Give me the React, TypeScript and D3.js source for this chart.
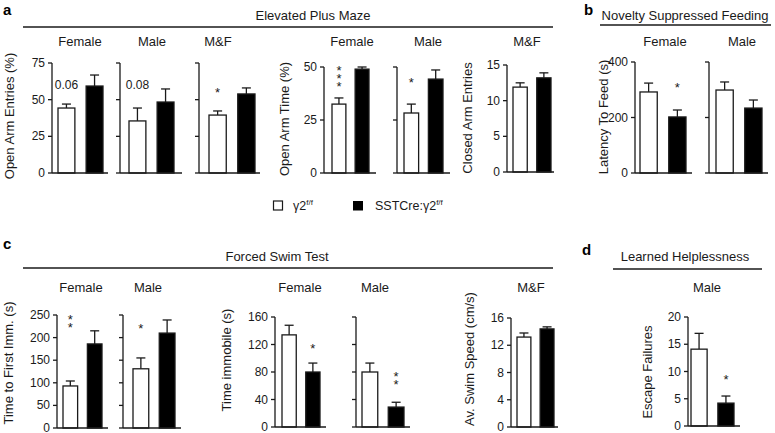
import React from 'react'
import * as d3 from 'd3'

const W = 775
const H = 433
const FONT = '"Liberation Sans", Arial, Helvetica, sans-serif'
const INK = '#1a1a1a'

const genotypes = ['γ2f/f', 'SSTCre:γ2f/f']

// a: Elevated Plus Maze  (Female, Male, M&F)
const openArmEntries = [[44.3, 59.3], [35.5, 48.4], [39.5, 53.9]]
const openArmEntriesSem = [[2.7, 7.5], [8.8, 8.9], [2.8, 4.1]]
const openArmTime = [[32.5, 49], [28.3, 44.3]]
const openArmTimeSem = [[2.9, 1], [4.2, 4.3]]
const closedArmEntries = [11.9, 13.2]
const closedArmEntriesSem = [0.6, 0.7]

// b: Novelty Suppressed Feeding (Female, Male)
const latencyToFeed = [[292, 202], [299, 234]]
const latencyToFeedSem = [[32, 25], [29, 29]]

// c: Forced Swim Test
const timeToFirstImm = [[93, 186], [131, 210]]
const timeToFirstImmSem = [[11, 29], [24, 29]]
const timeImmobile = [[134, 80], [80, 29]]
const timeImmobileSem = [[14, 13], [13, 7]]
const swimSpeed = [13.2, 14.4]
const swimSpeedSem = [0.6, 0.3]

// d: Learned Helplessness (Male)
const escapeFailures = [14.1, 4.2]
const escapeFailuresSem = [2.9, 1.3]

const entriesTicks = [0, 25, 50, 75]
const timeTicks = [0, 25, 50]
const closedTicks = [0, 5, 10, 15]
const latencyTicks = [0, 200, 400]
const firstImmTicks = [0, 50, 100, 150, 200, 250]
const immobileTicks = [0, 40, 80, 120, 160]
const speedTicks = [0, 4, 8, 12, 16]
const failureTicks = [0, 5, 10, 15, 20]

// significance marks: group index and height in data units
const marks = [
  { plot: 'oaeF', group: 0, text: '0.06', at: 60, n: 1 },
  { plot: 'oaeM', group: 0, text: '0.08', at: 60, n: 1 },
  { plot: 'oaeMF', group: 0, text: '*', at: 56, n: 1 },
  { plot: 'oatF', group: 0, text: '*', at: 49, n: 3 },
  { plot: 'oatM', group: 0, text: '*', at: 43.4, n: 1 },
  { plot: 'nsfF', group: 1, text: '*', at: 313, n: 1 },
  { plot: 'fstF', group: 0, text: '*', at: 243, n: 2 },
  { plot: 'fstM', group: 0, text: '*', at: 223, n: 1 },
  { plot: 'immF', group: 1, text: '*', at: 116, n: 1 },
  { plot: 'immM', group: 1, text: '*', at: 76, n: 2 },
  { plot: 'lhM', group: 1, text: '*', at: 8.8, n: 1 },
]

// layout of each small plot (pixel frame)
const plots = [
  { id: 'oaeF', mean: openArmEntries[0], sem: openArmEntriesSem[0], ticks: entriesTicks, labels: true, ax: 52, bars: [58, 103], end: 108, top: 63, bottom: 173, sub: 'Female', subX: 80, subY: 46 },
  { id: 'oaeM', mean: openArmEntries[1], sem: openArmEntriesSem[1], ticks: entriesTicks, labels: false, ax: 120, bars: [129, 174], end: 182, top: 63, bottom: 173, sub: 'Male', subX: 152, subY: 46 },
  { id: 'oaeMF', mean: openArmEntries[2], sem: openArmEntriesSem[2], ticks: entriesTicks, labels: false, ax: 199, bars: [209, 255], end: 260, top: 63, bottom: 173, sub: 'M&F', subX: 218, subY: 46 },
  { id: 'oatF', mean: openArmTime[0], sem: openArmTimeSem[0], ticks: timeTicks, labels: true, ax: 324, bars: [332, 369], end: 376, top: 67, bottom: 173, sub: 'Female', subX: 352, subY: 46 },
  { id: 'oatM', mean: openArmTime[1], sem: openArmTimeSem[1], ticks: timeTicks, labels: false, ax: 397, bars: [404, 443], end: 450, top: 67, bottom: 173, sub: 'Male', subX: 428, subY: 46 },
  { id: 'caeMF', mean: closedArmEntries, sem: closedArmEntriesSem, ticks: closedTicks, labels: true, ax: 507, bars: [513, 551], end: 554, top: 65, bottom: 172, sub: 'M&F', subX: 527, subY: 46 },
  { id: 'nsfF', mean: latencyToFeed[0], sem: latencyToFeedSem[0], ticks: latencyTicks, labels: true, ax: 635, bars: [640, 686], end: 692, top: 62, bottom: 173, sub: 'Female', subX: 665, subY: 46 },
  { id: 'nsfM', mean: latencyToFeed[1], sem: latencyToFeedSem[1], ticks: latencyTicks, labels: false, ax: 709, bars: [716, 762], end: 768, top: 62, bottom: 173, sub: 'Male', subX: 742, subY: 46 },
  { id: 'fstF', mean: timeToFirstImm[0], sem: timeToFirstImmSem[0], ticks: firstImmTicks, labels: true, ax: 57, bars: [63, 102], end: 108, top: 315, bottom: 428, sub: 'Female', subX: 81, subY: 292 },
  { id: 'fstM', mean: timeToFirstImm[1], sem: timeToFirstImmSem[1], ticks: firstImmTicks, labels: false, ax: 123, bars: [133, 175], end: 181, top: 315, bottom: 428, sub: 'Male', subX: 148, subY: 292 },
  { id: 'immF', mean: timeImmobile[0], sem: timeImmobileSem[0], ticks: immobileTicks, labels: true, ax: 275, bars: [282, 320], end: 326, top: 317, bottom: 427, sub: 'Female', subX: 300, subY: 292 },
  { id: 'immM', mean: timeImmobile[1], sem: timeImmobileSem[1], ticks: immobileTicks, labels: false, ax: 356, bars: [362, 404], end: 410, top: 317, bottom: 427, sub: 'Male', subX: 375, subY: 292 },
  { id: 'spdMF', mean: swimSpeed, sem: swimSpeedSem, ticks: speedTicks, labels: true, ax: 511, bars: [517, 554], end: 558, top: 318, bottom: 427, sub: 'M&F', subX: 531, subY: 292 },
  { id: 'lhM', mean: escapeFailures, sem: escapeFailuresSem, ticks: failureTicks, labels: true, ax: 688, bars: [691, 734], end: 740, top: 317, bottom: 426, sub: 'Male', subX: 707, subY: 292 },
]

const yLabels = [
  { text: 'Open Arm Entries (%)', x: 9, y: 116 },
  { text: 'Open Arm Time (%)', x: 284, y: 119 },
  { text: 'Closed Arm Entries', x: 467, y: 118 },
  { text: 'Latency To Feed  (s)', x: 603, y: 117 },
  { text: 'Time to First Imm. (s)', x: 8, y: 363 },
  { text: 'Time immobile (s)', x: 226, y: 360 },
  { text: 'Av. Swim Speed (cm/s)', x: 469, y: 359 },
  { text: 'Escape Failures', x: 647, y: 372 },
]

const headers = [
  { letter: 'a', lx: 3, ly: 15, title: 'Elevated Plus Maze', tx: 313, ty: 20, x1: 23, x2: 553, ly2: 27 },
  { letter: 'b', lx: 584, ly: 15, title: 'Novelty Suppressed Feeding', tx: 685, ty: 20, x1: 600, x2: 771, ly2: 25 },
  { letter: 'c', lx: 3, ly: 249, title: 'Forced Swim Test', tx: 277, ty: 261, x1: 23, x2: 553, ly2: 268 },
  { letter: 'd', lx: 582, ly: 255, title: 'Learned Helplessness', tx: 685, ty: 261, x1: 613, x2: 762, ly2: 269 },
]

function Plot({ p }: { p: (typeof plots)[number] }) {
  const max = p.ticks[p.ticks.length - 1]
  const y = d3.scaleLinear().domain([0, max]).range([p.bottom, p.top])
  const x = d3.scaleBand<string>().domain(genotypes).range(p.bars as [number, number]).paddingInner(0.4)
  const bw = x.bandwidth()
  const sw = 1.3
  return (
    <g>
      {genotypes.map((g, i) => {
        const x0 = x(g) || 0
        const cx = x0 + bw / 2
        const top = y(p.mean[i])
        const err = y(p.mean[i] + p.sem[i])
        return (
          <g key={g}>
            <line x1={cx} x2={cx} y1={top} y2={err} stroke={INK} strokeWidth={sw} />
            <line x1={cx - 4.5} x2={cx + 4.5} y1={err} y2={err} stroke={INK} strokeWidth={sw} />
            <rect
              x={x0}
              y={top}
              width={bw}
              height={y(0) - top}
              fill={i === 0 ? '#fff' : '#000'}
              stroke={INK}
              strokeWidth={sw}
            />
          </g>
        )
      })}
      <line x1={p.ax} x2={p.ax} y1={y(0)} y2={y(max)} stroke={INK} strokeWidth={sw} />
      <line x1={p.ax} x2={p.end} y1={y(0)} y2={y(0)} stroke={INK} strokeWidth={sw} />
      {p.ticks.map((t) => (
        <g key={t}>
          <line x1={p.ax - 4} x2={p.ax} y1={y(t)} y2={y(t)} stroke={INK} strokeWidth={sw} />
          {p.labels && (
            <text x={p.ax - 7} y={y(t)} dy="0.34em" textAnchor="end" fontSize={12} fill={INK}>
              {t}
            </text>
          )}
        </g>
      ))}
      <text x={p.subX} y={p.subY} textAnchor="middle" fontSize={13} fill={INK}>
        {p.sub}
      </text>
      {marks
        .filter((m) => m.plot === p.id)
        .map((m, k) => {
          const cx = (x(genotypes[m.group]) || 0) + bw / 2
          if (m.text !== '*') {
            return (
              <text key={k} x={cx} y={y(m.at)} dy="0.36em" textAnchor="middle" fontSize={12} fill={INK}>
                {m.text}
              </text>
            )
          }
          // stacked asterisks in one text element
          return (
            <text key={k} x={cx} y={y(m.at) + 6} textAnchor="middle" fontSize={13} fill={INK}>
              {d3.range(m.n).map((j) => (
                <tspan key={j} x={cx} dy={j === 0 ? 0 : 8}>
                  *
                </tspan>
              ))}
            </text>
          )
        })}
    </g>
  )
}

export default function App() {
  return (
    <svg
      width={W}
      height={H}
      viewBox={`0 0 ${W} ${H}`}
      style={{ position: 'absolute', left: 0, top: 0, background: '#fff', display: 'block' }}
      fontFamily={FONT}
    >
      <rect width={W} height={H} fill="#fff" />
      {headers.map((h) => (
        <g key={h.letter}>
          <text x={h.lx} y={h.ly} fontSize={15} fontWeight="bold" fill="#000">
            {h.letter}
          </text>
          <text x={h.tx} y={h.ty} textAnchor="middle" fontSize={13} fill={INK}>
            {h.title}
          </text>
          <line x1={h.x1} x2={h.x2} y1={h.ly2} y2={h.ly2} stroke={INK} strokeWidth={1.3} />
        </g>
      ))}
      {plots.map((p) => (
        <Plot key={p.id} p={p} />
      ))}
      {yLabels.map((l) => (
        <text
          key={l.text}
          transform={`translate(${l.x},${l.y}) rotate(-90)`}
          textAnchor="middle"
          dominantBaseline="central"
          fontSize={13}
          fill={INK}
        >
          {l.text}
        </text>
      ))}
      {/* legend */}
      <g fontSize={12.5} fill={INK}>
        <rect x={273.5} y={201} width={9} height={9} fill="#fff" stroke={INK} strokeWidth={1.2} />
        <text x={293} y={210}>
          γ2<tspan fontSize={8} dy={-5}>f/f</tspan>
        </text>
        <rect x={353} y={201} width={10} height={9.5} fill="#000" />
        <text x={375} y={210}>
          SSTCre:γ2<tspan fontSize={8} dy={-5}>f/f</tspan>
        </text>
      </g>
    </svg>
  )
}
